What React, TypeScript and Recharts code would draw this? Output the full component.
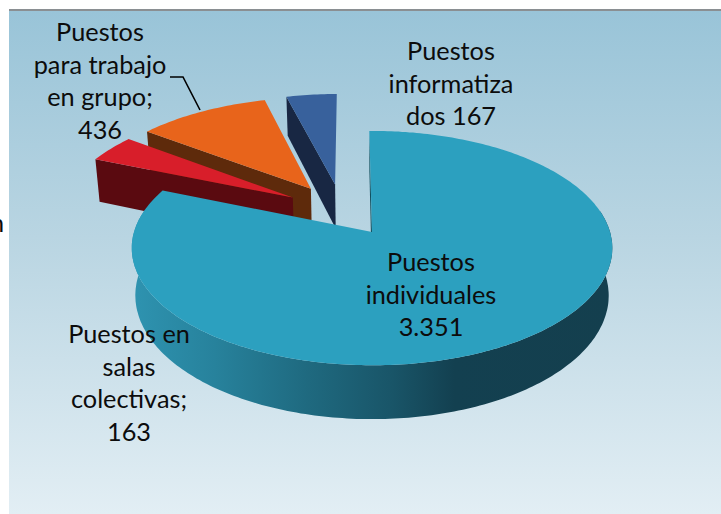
import React from 'react';
import { PieChart, Pie } from 'recharts';

// clockwise from the top they run individuales, salas, grupo, informatizados;
// listed backwards so the big slice is painted last
const categories = ['Puestos informatizados', 'Puestos para trabajo en grupo', 'Puestos en salas colectivas', 'Puestos individuales'];
const puestos = [167, 436, 163, 3351];
const labelLines = [
  ['Puestos', 'informatiza', 'dos 167'],
  ['Puestos', 'para trabajo', 'en grupo;', '436'],
  ['Puestos en', 'salas', 'colectivas;', '163'],
  ['Puestos', 'individuales', '3.351'],
];

const topColors = ['#38619c', '#e8641b', '#d81e2a', '#2ca0bf'];
const wallColors = ['#182743', '#5e2a0b', '#5a0a10', '#12505f'];
const explodeBy = [0.25, 0.25, 0.25, 0.23];
const labelAnchors = [
  { x: 451, y: 60 },
  { x: 100, y: 41 },
  { x: 129, y: 343 },
  { x: 431, y: 271 },
];

const data = categories.map((name, i) => ({
  name,
  value: puestos[i],
  fill: topColors[i],
  wall: wallColors[i],
  explode: explodeBy[i],
}));

const SQUASH = 0.483;
const PERSPECTIVE = 0.137;
const DEPTH = 46.5;
const RAD = Math.PI / 180;
const FONT_SIZE = 25.3;
// middle of the whole pie, in radius units, relative to the big slice's tip
const PIE_U = -0.125;
const PIE_V = -0.19;

function Slice3D(props: any) {
  const { cx, cy, outerRadius, startAngle, endAngle, midAngle, fill, wall, name, explode } = props;
  const rx = outerRadius;
  const ry = outerRadius * SQUASH;
  const midT = (90 - midAngle) * RAD;
  const tipU = PIE_U + explode * Math.sin(midT);
  const tipV = PIE_V - explode * Math.cos(midT);

  const project = (u: number, v: number, low = false) => {
    const w = 1 - PERSPECTIVE * v;
    const shrink = low ? 0.985 : 1;
    return [cx + (rx * u * shrink) / w, cy + (ry * v) / w + (low ? DEPTH / w : 0)];
  };
  const rim = (theta: number, low = false) =>
    project(tipU + Math.sin(theta * RAD), tipV - Math.cos(theta * RAD), low);
  const toPath = (pts: number[][]) =>
    'M' + pts.map((p) => p[0].toFixed(1) + ' ' + p[1].toFixed(1)).join('L') + 'Z';

  // clockwise angle from the top
  const from = 90 - endAngle + 360;
  const to = 90 - startAngle + 360;
  const arc: number[][] = [];
  for (let t = from; t <= to + 0.01; t += 1) arc.push(rim(t));
  arc.push(rim(to));

  const tip = project(tipU, tipV);
  const tipLow = project(tipU, tipV, true);
  const isBig = name === 'Puestos individuales';

  const wallArc: number[][] = [];
  const wallArcLow: number[][] = [];
  if (isBig) {
    for (let t = from + 80; t <= from + 282; t += 1) {
      wallArc.push(rim(t));
      wallArcLow.push(rim(t, true));
    }
  }

  return (
    <g>
      {isBig && (
        <defs>
          <linearGradient id="bigWall" gradientUnits="userSpaceOnUse" x1="133" y1="0" x2="613" y2="0">
            <stop offset="0" stopColor="#2e93b0" />
            <stop offset="0.17" stopColor="#27829c" />
            <stop offset="0.36" stopColor="#1f6a80" />
            <stop offset="0.54" stopColor="#195568" />
            <stop offset="0.67" stopColor="#134050" />
            <stop offset="1" stopColor="#143f4e" />
          </linearGradient>
        </defs>
      )}
      {/* cut face on the slice's left side, the one that looks at the viewer */}
      <path d={toPath([tip, rim(from), rim(from, true), tipLow])} fill={wall} />
      {isBig && <path d={toPath([...wallArc, ...wallArcLow.reverse()])} fill="url(#bigWall)" />}
      <path d={toPath([tip, ...arc])} fill={fill} />
    </g>
  );
}

function SliceLabel(props: any) {
  const { index } = props;
  const anchor = labelAnchors[index];
  return (
    <g>
      {labelLines[index].map((line, i) => (
        <text
          key={i}
          x={anchor.x}
          y={anchor.y + i * 32.5}
          textAnchor="middle"
          fill="#0c0c0c"
          fontSize={FONT_SIZE}
          fontFamily="Lato, sans-serif"
        >
          {line}
        </text>
      ))}
      {index === 1 && <polyline points="170,77 183,77 200,110" fill="none" stroke="#000" strokeWidth={1.6} />}
    </g>
  );
}

export default function App() {
  return (
    <div style={{ position: 'absolute', left: 0, top: 0, width: 721, height: 514, overflow: 'hidden', background: '#fff' }}>
      <div
        style={{
          position: 'absolute',
          left: 9,
          top: 9,
          width: 712,
          height: 505,
          boxSizing: 'border-box',
          borderTop: '2px solid #8a8f92',
          background: 'linear-gradient(180deg, #99c4d8 0%, #b9d5e2 45%, #e2eef4 100%)',
        }}
      />
      <div style={{ position: 'absolute', left: 0, top: 0 }}>
        <PieChart width={721} height={514} margin={{ top: 0, right: 0, bottom: 0, left: 0 }}>
          <Pie
            data={data}
            dataKey="value"
            nameKey="name"
            cx={371}
            cy={232}
            outerRadius={238}
            startAngle={90.7}
            endAngle={450.7}
            stroke="none"
            shape={Slice3D}
            label={SliceLabel}
            labelLine={false}
            isAnimationActive={false}
          />
          <text x={-10} y={232} fontSize={FONT_SIZE} fontFamily="Lato, sans-serif" fill="#0c0c0c">
            n
          </text>
        </PieChart>
      </div>
    </div>
  );
}
